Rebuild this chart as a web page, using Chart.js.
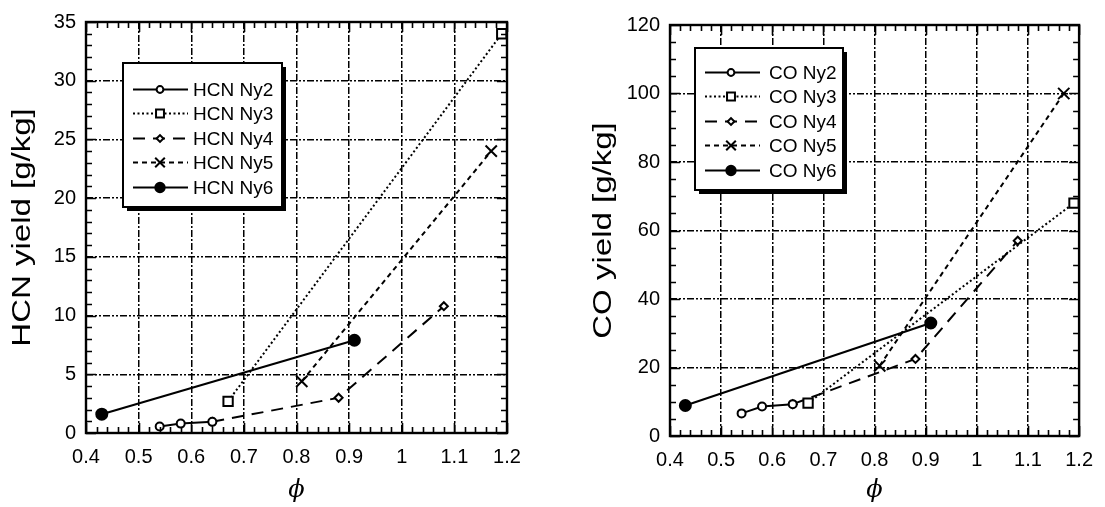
<!DOCTYPE html>
<html lang="fr">
<head>
<meta charset="utf-8">
<title>Rendements HCN et CO</title>
<script src="https://cdn.jsdelivr.net/npm/chart.js@4.4.1/dist/chart.umd.min.js"></script>
<style>
    html, body { margin: 0; padding: 0; background: #fff; }
    #wrap { position: relative; width: 1105px; height: 507px; }
    #hcnChart { position: absolute; left: 0; top: 0; }
    #coChart { position: absolute; left: 550px; top: 0; }
</style>
</head>
<body>
<div id="wrap">
    <canvas id="hcnChart" width="550" height="507"></canvas>
    <canvas id="coChart" width="555" height="507"></canvas>
</div>
<script>
// Graphiques des rendements HCN / CO en fonction de phi

console.log('Initialisation des graphiques HCN / CO...');

// Libellés des axes
const xTickLabels = ['0.4', '0.5', '0.6', '0.7', '0.8', '0.9', '1', '1.1', '1.2'];
const hcnTickLabels = ['0', '5', '10', '15', '20', '25', '30', '35'];
const coTickLabels = ['0', '20', '40', '60', '80', '100', '120'];

// Noms des essais
const seriesNames = ['Ny2', 'Ny3', 'Ny4', 'Ny5', 'Ny6'];

// HCN [g/kg]
const hcnNy2Phi = [0.54, 0.58, 0.64];
const hcnNy2Yield = [0.55, 0.8, 0.95];
const hcnNy3Phi = [0.67, 1.19];
const hcnNy3Yield = [2.7, 34];
const hcnNy4Phi = [0.64, 0.88, 1.08];
const hcnNy4Yield = [0.95, 3.0, 10.8];
const hcnNy5Phi = [0.81, 1.17];
const hcnNy5Yield = [4.4, 24];
const hcnNy6Phi = [0.43, 0.91];
const hcnNy6Yield = [1.6, 7.9];

// CO [g/kg]
const coNy2Phi = [0.54, 0.58, 0.64];
const coNy2Yield = [6.6, 8.6, 9.3];
const coNy3Phi = [0.67, 1.19];
const coNy3Yield = [9.6, 68];
const coNy4Phi = [0.64, 0.88, 1.08];
const coNy4Yield = [9.3, 22.5, 57];
const coNy5Phi = [0.81, 1.17];
const coNy5Yield = [20.5, 100];
const coNy6Phi = [0.43, 0.91];
const coNy6Yield = [8.9, 33];

// Style de trait / marqueur pour chaque essai (Ny2 ... Ny6)
const seriesStyles = [
    { dash: [], point: 'circle', radius: 4, fill: '#fff', width: 2 },
    { dash: [2, 2.5], point: 'rect', radius: 6.6, fill: '#fff', width: 2 },
    { dash: [12, 8], point: 'rectRot', radius: 4, fill: '#fff', width: 2 },
    { dash: [5, 4], point: 'crossRot', radius: 8, fill: '#fff', width: 2 },
    { dash: [], point: 'circle', radius: 5.5, fill: '#000', width: 2.2 }
];

const fontFamily = '"Liberation Sans", Arial, Helvetica, sans-serif';

// Construire les datasets à partir des tableaux
function buildDatasets(prefix, phis, yields) {
    return seriesNames.map((name, i) => {
        const st = seriesStyles[i];
        return {
            label: prefix + ' ' + name,
            data: phis[i].map((p, k) => ({ x: p, y: yields[i][k] })),
            borderColor: '#000',
            borderWidth: st.width,
            borderDash: st.dash,
            pointStyle: st.point,
            pointRadius: st.radius,
            pointBackgroundColor: st.fill,
            pointBorderColor: '#000',
            pointBorderWidth: 2,
            tension: 0,
            fill: false
        };
    });
}

// Cadre + graduations intérieures (majeures et mineures) sur les 4 côtés
const cadrePlugin = {
    id: 'cadre',
    afterDraw(chart, args, opts) {
        const { ctx, chartArea: a, scales: { x, y } } = chart;
        ctx.save();
        ctx.strokeStyle = '#000';
        ctx.lineWidth = 1.6;
        ctx.setLineDash([]);
        ctx.beginPath();

        const nx = Math.round((x.max - x.min) / opts.minorX);
        const perMajorX = Math.round(opts.majorX / opts.minorX);
        for (let i = 0; i <= nx; i++) {
            const px = Math.round(x.getPixelForValue(x.min + i * opts.minorX)) + 0.5;
            const len = i % perMajorX === 0 ? opts.majorLen : opts.minorLen;
            ctx.moveTo(px, a.bottom); ctx.lineTo(px, a.bottom - len);
            ctx.moveTo(px, a.top); ctx.lineTo(px, a.top + len);
        }

        const ny = Math.round((y.max - y.min) / opts.minorY);
        const perMajorY = Math.round(opts.majorY / opts.minorY);
        for (let i = 0; i <= ny; i++) {
            const py = Math.round(y.getPixelForValue(y.min + i * opts.minorY)) + 0.5;
            const len = i % perMajorY === 0 ? opts.majorLen : opts.minorLen;
            ctx.moveTo(a.left, py); ctx.lineTo(a.left + len, py);
            ctx.moveTo(a.right, py); ctx.lineTo(a.right - len, py);
        }
        ctx.stroke();

        ctx.lineWidth = 2.4;
        ctx.strokeRect(a.left, a.top, a.right - a.left, a.bottom - a.top);
        ctx.restore();
    }
};

// Légende encadrée avec ombre portée
const legendeBoitePlugin = {
    id: 'legendeBoite',
    afterDatasetsDraw(chart, args, opts) {
        const ctx = chart.ctx;
        const { x, y, w, h } = opts;
        ctx.save();
        ctx.fillStyle = '#000';
        ctx.fillRect(x + 4, y + 4, w, h);
        ctx.fillStyle = '#fff';
        ctx.fillRect(x, y, w, h);
        ctx.strokeStyle = '#000';
        ctx.lineWidth = 2;
        ctx.strokeRect(x, y, w, h);

        chart.data.datasets.forEach((ds, i) => {
            const ry = Math.round(y + opts.firstRow + i * opts.rowGap) + 0.5;
            ctx.strokeStyle = '#000';
            ctx.setLineDash(ds.borderDash);
            ctx.lineWidth = ds.borderWidth;
            ctx.beginPath();
            ctx.moveTo(x + opts.lineStart, ry);
            ctx.lineTo(x + opts.lineEnd, ry);
            ctx.stroke();
            ctx.setLineDash([]);

            // marqueur un peu plus petit dans la légende
            ctx.fillStyle = ds.pointBackgroundColor;
            ctx.lineWidth = ds.pointBorderWidth;
            Chart.helpers.drawPoint(ctx, {
                pointStyle: ds.pointStyle,
                radius: ds.pointRadius * 0.85,
                borderWidth: ds.pointBorderWidth,
                rotation: 0
            }, x + opts.marker, ry);

            ctx.fillStyle = '#000';
            ctx.font = '19px ' + fontFamily;
            ctx.textAlign = 'left';
            ctx.textBaseline = 'middle';
            ctx.fillText(ds.label, x + opts.textX, ry + 1);
        });
        ctx.restore();
    }
};

// Titres des axes (y vertical étiré, phi en italique)
const titresPlugin = {
    id: 'titres',
    afterDraw(chart, args, opts) {
        const { ctx, chartArea: a } = chart;
        ctx.save();
        ctx.fillStyle = '#000';
        ctx.font = '25px ' + fontFamily;
        ctx.textAlign = 'center';
        ctx.textBaseline = 'middle';
        ctx.translate(opts.yTitleX, (a.top + a.bottom) / 2);
        ctx.rotate(-Math.PI / 2);
        ctx.scale(opts.stretch, 1);
        ctx.fillText(opts.yTitle, 0, 0);
        ctx.restore();

        ctx.save();
        ctx.fillStyle = '#000';
        ctx.font = 'italic 24px "DejaVu Serif", serif';
        ctx.textAlign = 'center';
        ctx.textBaseline = 'middle';
        ctx.fillText('\u03D5', (a.left + a.right) / 2, opts.xTitleY);
        ctx.restore();
    }
};

function createChart(canvasId, cfg) {
    const canvas = document.getElementById(canvasId);
    if (!canvas) {
        console.error('Canvas #' + canvasId + ' non trouvé!');
        return null;
    }
    const tickFont = { family: fontFamily, size: 20 };
    return new Chart(canvas.getContext('2d'), {
        type: 'line',
        data: { datasets: cfg.datasets },
        options: {
            responsive: false,
            animation: false,
            layout: { padding: cfg.padding },
            plugins: {
                legend: { display: false },
                tooltip: { enabled: false },
                cadre: cfg.cadre,
                legendeBoite: cfg.legende,
                titres: cfg.titres
            },
            scales: {
                x: {
                    type: 'linear',
                    min: 0.4,
                    max: 1.2,
                    afterFit: s => { s.height = cfg.xHeight; },
                    grid: { color: '#000', lineWidth: 1.5, drawTicks: false },
                    border: { display: false, dash: [7, 2, 2, 2] },
                    ticks: {
                        stepSize: 0.1,
                        padding: 12,
                        color: '#000',
                        font: tickFont,
                        maxRotation: 0,
                        autoSkip: false,
                        callback: (v, i) => xTickLabels[i]
                    }
                },
                y: {
                    type: 'linear',
                    min: 0,
                    max: cfg.yMax,
                    afterFit: s => { s.width = cfg.yWidth; },
                    grid: { color: '#000', lineWidth: 1.5, drawTicks: false },
                    border: { display: false, dash: [7, 2, 2, 2, 2, 2] },
                    ticks: {
                        stepSize: cfg.yStep,
                        padding: 10,
                        color: '#000',
                        font: tickFont,
                        autoSkip: false,
                        callback: (v, i) => cfg.yLabels[i]
                    }
                }
            }
        },
        plugins: [cadrePlugin, legendeBoitePlugin, titresPlugin]
    });
}

window.hcnChart = createChart('hcnChart', {
    datasets: buildDatasets('HCN',
        [hcnNy2Phi, hcnNy3Phi, hcnNy4Phi, hcnNy5Phi, hcnNy6Phi],
        [hcnNy2Yield, hcnNy3Yield, hcnNy4Yield, hcnNy5Yield, hcnNy6Yield]),
    padding: { left: 0, top: 22, right: 43, bottom: 0 },
    xHeight: 74,
    yWidth: 86,
    yMax: 35,
    yStep: 5,
    yLabels: hcnTickLabels,
    cadre: { minorX: 0.02, majorX: 0.1, minorY: 1, majorY: 5, minorLen: 6, majorLen: 10 },
    legende: { x: 123, y: 63, w: 159, h: 144, firstRow: 26, rowGap: 24.4, lineStart: 10, lineEnd: 65, marker: 37, textX: 70 },
    titres: { yTitle: 'HCN yield [g/kg]', yTitleX: 23, stretch: 1.32, xTitleY: 491 }
});

window.coChart = createChart('coChart', {
    datasets: buildDatasets('CO',
        [coNy2Phi, coNy3Phi, coNy4Phi, coNy5Phi, coNy6Phi],
        [coNy2Yield, coNy3Yield, coNy4Yield, coNy5Yield, coNy6Yield]),
    padding: { left: 0, top: 25, right: 16, bottom: 0 },
    xHeight: 71,
    yWidth: 120,
    yMax: 120,
    yStep: 20,
    yLabels: coTickLabels,
    cadre: { minorX: 0.02, majorX: 0.1, minorY: 5, majorY: 20, minorLen: 6, majorLen: 10 },
    legende: { x: 145, y: 48, w: 148, h: 142, firstRow: 24, rowGap: 24.4, lineStart: 10, lineEnd: 65, marker: 36, textX: 74 },
    titres: { yTitle: 'CO yield [g/kg]', yTitleX: 54, stretch: 1.32, xTitleY: 491 }
});

console.log('Graphiques créés');
</script>
</body>
</html>
